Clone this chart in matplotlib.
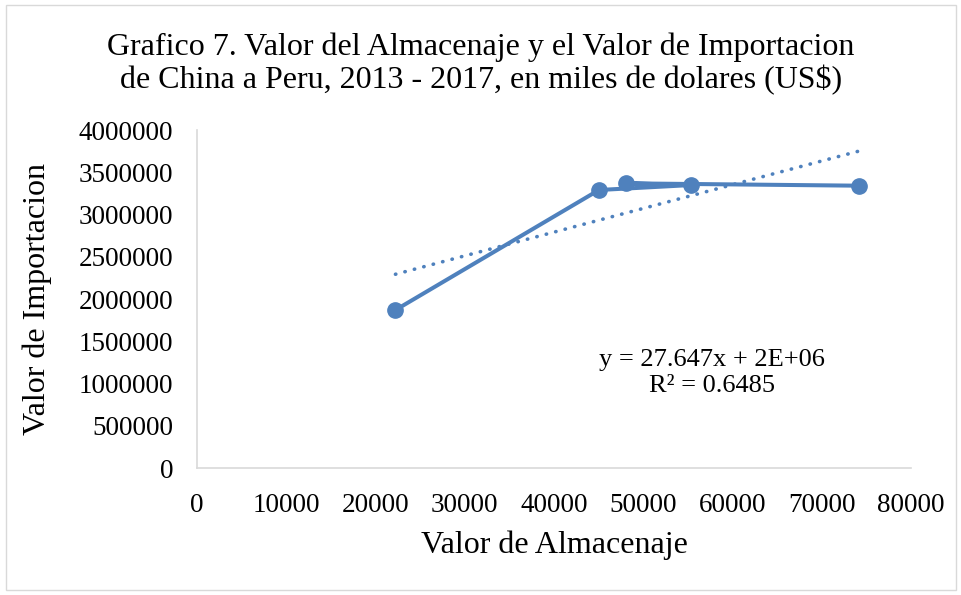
import matplotlib.pyplot as plt
import numpy as np
from matplotlib.patches import Rectangle

# datos (orden de la serie)
almacenaje = [22235, 45030, 55385, 48045, 74225]
importacion = [1870000, 3290000, 3349000, 3369000, 3341000]

x_ticks = [0, 10000, 20000, 30000, 40000, 50000, 60000, 70000, 80000]
y_ticks = [0, 500000, 1000000, 1500000, 2000000, 2500000, 3000000, 3500000, 4000000]

titulo = "Grafico 7. Valor del Almacenaje y el Valor de Importacion\nde China a Peru, 2013 - 2017, en miles de dolares (US$)"
ecuacion = "y = 27.647x + 2E+06\nR² = 0.6485"

azul = "#4F81BD"
plt.rcParams['font.family'] = ['Liberation Serif', 'DejaVu Serif']

fig = plt.figure(figsize=(9.62, 5.95), dpi=100)
fig.patches.append(Rectangle((0.006, 0.008), 0.988, 0.984, transform=fig.transFigure,
                             fill=False, edgecolor="#D9D9D9", linewidth=1))
ax = fig.add_axes([0.2048, 0.2134, 0.7422, 0.5681])

ax.plot(almacenaje, importacion, color=azul, linewidth=2.9, marker="o",
        markersize=11, solid_joinstyle="round")

# linea de tendencia lineal
m, b = np.polyfit(almacenaje, importacion, 1)
xt = np.array([min(almacenaje), max(almacenaje)])
ax.plot(xt, m * xt + b, color=azul, linewidth=2.6, linestyle=(0, (0.1, 2.6)),
        dash_capstyle="round")

ax.text(57650, 1125000, ecuacion, ha="center", va="center", fontsize=19, linespacing=1.25)

ax.set_xlim(0, 80000)
ax.set_ylim(0, 4000000)
ax.set_xticks(x_ticks)
ax.set_yticks(y_ticks)
ax.set_xticklabels([str(v) for v in x_ticks])
ax.set_yticklabels([str(v) for v in y_ticks])
ax.tick_params(length=0, labelsize=19.5)
ax.tick_params(axis="y", pad=17)
ax.tick_params(axis="x", pad=18)

for s in ["top", "right"]:
    ax.spines[s].set_visible(False)
for s in ["left", "bottom"]:
    ax.spines[s].set_color("#D9D9D9")
    ax.spines[s].set_linewidth(1.2)

ax.set_xlabel("Valor de Almacenaje", fontsize=23, labelpad=9)
ax.set_ylabel("Valor de Importacion", fontsize=23, labelpad=19)
fig.text(0.5, 0.893, titulo, ha="center", va="center", fontsize=23, linespacing=1.15)

plt.savefig("out.png", dpi=100)
